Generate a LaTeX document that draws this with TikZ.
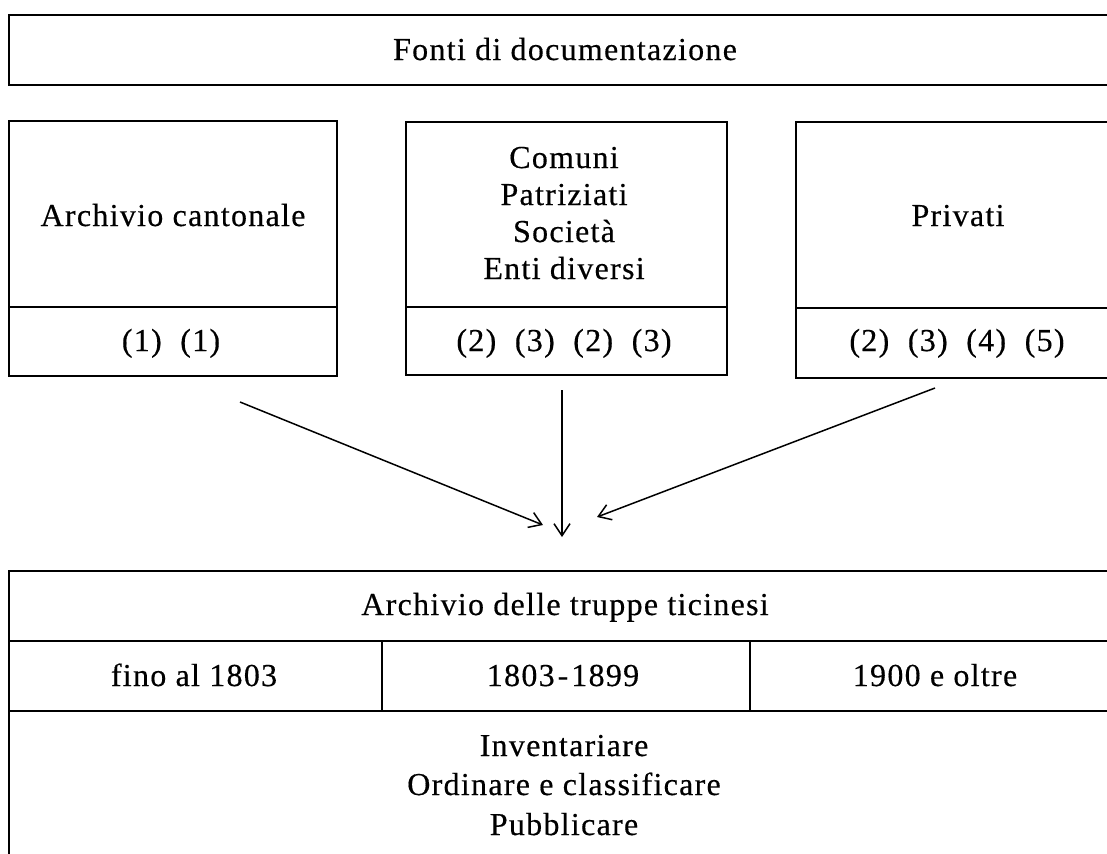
\documentclass[tikz,border=0pt]{standalone}
\usepackage{fontspec}
\setmainfont{Liberation Serif}[LetterSpace=4,FakeBold=0.4]
\usetikzlibrary{arrows.meta}
\begin{document}
\begin{tikzpicture}[x=0.5pt,y=-0.5pt,
  frame/.style={line width=1.25pt, line join=miter},
  lbl/.style={inner sep=0pt, anchor=base, font=\fontsize{16}{19}\selectfont},
  arr/.style={line width=0.75pt, -{Straight Barb[length=6pt,width=8pt]}}]
\useasboundingbox (0,0) rectangle (1107,853);
% top box
\draw[frame] (1107,15) -- (9,15) -- (9,85) -- (1107,85);
\node[lbl] (fonti) at (565,60) {Fonti di documentazione};
% left box
\draw[frame] (9,121) rectangle (337,376);
\draw[frame] (9,307) -- (337,307);
\node[lbl] (cant) at (173,226) {Archivio cantonale};
\node[lbl] (cantn) at (171,351) {(1)\ \ (1)};
% middle box
\draw[frame] (406,122) rectangle (727,375);
\draw[frame] (406,307) -- (727,307);
\node[lbl] (comuni) at (564,168) {Comuni};
\node[lbl] (patr) at (564,205) {Patriziati};
\node[lbl] (soc) at (564,242) {Società};
\node[lbl] (enti) at (564,279) {Enti diversi};
\node[lbl] (midn) at (564,351) {(2)\ \ (3)\ \ (2)\ \ (3)};
% right box
\draw[frame] (1107,122) -- (796,122) -- (796,378) -- (1107,378);
\draw[frame] (796,308) -- (1107,308);
\node[lbl] (priv) at (958,226) {Privati};
\node[lbl] (privn) at (957,351) {(2)\ \ (3)\ \ (4)\ \ (5)};
% arrows
\coordinate (la) at (240,402);
\coordinate (lb) at (543,525);
\coordinate (ma) at (562,390);
\coordinate (mb) at (562,537);
\coordinate (ra) at (935,388);
\coordinate (rb) at (597,517);
\draw[arr] (la) -- (lb);
\draw[arr] (ma) -- (mb);
\draw[arr] (ra) -- (rb);
% bottom box
\draw[frame] (1107,571) -- (9,571) -- (9,860);
\draw[frame] (9,641) -- (1107,641);
\draw[frame] (9,711) -- (1107,711);
\draw[frame] (382,641) -- (382,711);
\draw[frame] (750,641) -- (750,711);
\node[lbl] (truppe) at (565,615) {Archivio delle truppe ticinesi};
\node[lbl] (fino) at (194,686) {fino al 1803};
\node[lbl] (mid) at (563,686) {1803\kern1.5pt-\kern1.5pt1899};
\node[lbl] (oltre) at (935,686) {1900 e oltre};
\node[lbl] (inv) at (564,756) {Inventariare};
\node[lbl] (ord) at (564,795) {Ordinare e classificare};
\node[lbl] (pub) at (564,835) {Pubblicare};
\end{tikzpicture}
\end{document}
